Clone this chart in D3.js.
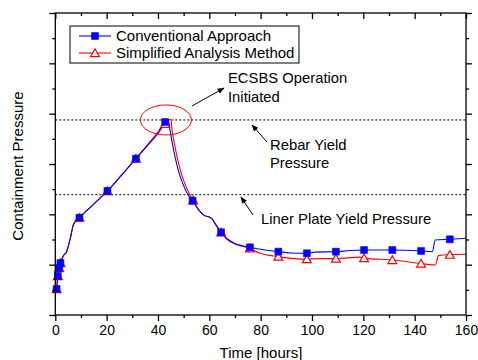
<!DOCTYPE html>
<html>
<head>
<meta charset="utf-8">
<script src="https://cdn.jsdelivr.net/npm/d3@7"></script>
<style>
  html, body { margin: 0; padding: 0; background: #fff; }
  svg { display: block; font-family: "Liberation Sans", Arial, sans-serif; }
</style>
</head>
<body>
<svg id="chart" width="478" height="360"></svg>
<script>
// Containment pressure transient (arbitrary pressure units, time in hours)

// Conventional approach: continuous curve
const convTime = [0.5, 1.0, 1.5, 2.0, 3.1, 4.4, 6.0, 7.0, 9.4, 14.5, 20.3, 26.0, 31.4, 34.3, 36.9, 40.1, 42.1, 42.8, 44.0,
  44.7, 45.6, 46.6, 47.9, 49.6, 51.8, 53.5, 55.7, 57.7, 60.9, 62.2, 64.6, 66.8, 70.0, 75.8, 81.7, 86.9, 91.5, 98.0,
  101.2, 109.3, 114.8, 120.3, 131.3, 142.5, 146.9, 148.0, 153.7, 160.0];
const convValue = [0.517, 0.775, 0.934, 1.03, 1.172, 1.258, 1.556, 1.788, 1.933, 2.18, 2.464, 2.79, 3.106, 3.28, 3.44, 3.64, 3.795, 3.835, 3.86,
  3.67, 3.41, 3.15, 2.88, 2.62, 2.38, 2.27, 2.10, 1.99, 1.92, 1.82, 1.643, 1.52, 1.42, 1.345, 1.29, 1.258, 1.232, 1.226,
  1.25, 1.258, 1.28, 1.291, 1.291, 1.272, 1.258, 1.49, 1.504, 1.524];

// Simplified analysis method: continuous curve
const simpTime = [0.5, 1.0, 1.5, 2.0, 3.1, 4.4, 6.0, 7.0, 9.4, 14.5, 20.3, 26.0, 31.4, 34.3, 36.9, 40.1, 42.8, 45.0,
  45.5, 46.4, 47.4, 48.7, 50.4, 52.5, 53.7, 55.7, 57.7, 60.9, 62.2, 64.6, 66.8, 70.0, 75.8, 79.8, 86.9, 93.4, 98.0,
  103.2, 109.3, 118.8, 120.3, 131.3, 142.5, 148.0, 149.3, 153.7, 160.0];
const simpValue = [0.517, 0.775, 0.934, 1.03, 1.172, 1.258, 1.556, 1.788, 1.933, 2.18, 2.464, 2.79, 3.106, 3.27, 3.42, 3.61, 3.80, 3.89,
  3.67, 3.41, 3.15, 2.88, 2.62, 2.38, 2.28, 2.10, 1.99, 1.92, 1.82, 1.643, 1.51, 1.41, 1.325, 1.226, 1.16, 1.12, 1.11,
  1.12, 1.12, 1.15, 1.13, 1.093, 1.023, 0.993, 1.18, 1.198, 1.206];

// Marker samples
const convMarkT = [0.5, 1.0, 1.5, 2.0, 9.4, 20.3, 31.4, 42.8, 53.5, 64.6, 75.8, 86.9, 98.0, 109.3, 120.3, 131.3, 142.5, 153.7];
const convMarkV = [0.517, 0.775, 0.934, 1.033, 1.933, 2.464, 3.106, 3.835, 2.271, 1.643, 1.345, 1.258, 1.226, 1.258, 1.291, 1.291, 1.272, 1.504];
const simpMarkT = [0.5, 1.0, 1.5, 2.0, 9.4, 20.3, 31.4, 42.8, 53.7, 64.6, 75.8, 86.9, 98.0, 109.3, 120.3, 131.3, 142.5, 153.7];
const simpMarkV = [0.517, 0.775, 0.934, 1.033, 1.933, 2.464, 3.106, 3.80, 2.28, 1.643, 1.325, 1.16, 1.11, 1.12, 1.13, 1.093, 1.023, 1.198];

// Reference pressure levels
const rebarYield = 3.875;
const linerYield = 2.39;

const xTicksMajor = [0, 20, 40, 60, 80, 100, 120, 140, 160];
const xTicksMinor = [10, 30, 50, 70, 90, 110, 130, 150];
const yTicksMajor = [0, 1, 2, 3, 4, 5, 6];
const yTicksMinor = [0.5, 1.5, 2.5, 3.5, 4.5, 5.5];

const seriesNames = ["Conventional Approach", "Simplified Analysis Method"];
const blue = "#0000ff", red = "#ff0000";

const svg = d3.select("#chart");
const x = d3.scaleLinear().domain([0, 160]).range([55.3, 466]);
const y = d3.scaleLinear().domain([0, 6]).range([315, 13]);

// arrowhead
svg.append("defs").append("marker")
  .attr("id", "arrow").attr("viewBox", "0 0 10 10").attr("refX", 9).attr("refY", 5)
  .attr("markerWidth", 8).attr("markerHeight", 7).attr("markerUnits", "userSpaceOnUse")
  .attr("orient", "auto")
  .append("path").attr("d", "M0,1 L10,5 L0,9 Z").attr("fill", "#000");

// dashed yield levels
[rebarYield, linerYield].forEach(v => {
  svg.append("line")
    .attr("x1", x(0)).attr("x2", x(160)).attr("y1", y(v)).attr("y2", y(v))
    .attr("stroke", "#000").attr("stroke-width", 1).attr("stroke-dasharray", "2,2");
});

const line = d3.line().x(d => x(d[0])).y(d => y(d[1])).curve(d3.curveMonotoneX);
const simpData = simpTime.map((t, i) => [t, simpValue[i]]);
const convData = convTime.map((t, i) => [t, convValue[i]]);

svg.append("path").datum(simpData).attr("d", line)
  .attr("fill", "none").attr("stroke", red).attr("stroke-width", 1.1);
svg.append("path").datum(convData).attr("d", line)
  .attr("fill", "none").attr("stroke", blue).attr("stroke-width", 1.1);

const tri = d3.symbol().type(d3.symbolTriangle).size(34);
const sq = d3.symbol().type(d3.symbolSquare).size(49);

svg.append("g").selectAll("path").data(simpMarkT).join("path")
  .attr("d", tri).attr("transform", (t, i) => `translate(${x(t)},${y(simpMarkV[i]) + 1})`)
  .attr("fill", "#fff").attr("stroke", red).attr("stroke-width", 1.2);
svg.append("g").selectAll("path").data(convMarkT).join("path")
  .attr("d", sq).attr("transform", (t, i) => `translate(${x(t)},${y(convMarkV[i])})`)
  .attr("fill", blue).attr("stroke", blue).attr("stroke-width", 0.5);

// plot frame and ticks (outer on left/bottom, inner on right/top)
svg.append("rect").attr("x", x(0)).attr("y", y(6)).attr("width", x(160) - x(0)).attr("height", y(0) - y(6))
  .attr("fill", "none").attr("stroke", "#000").attr("stroke-width", 1.3);

function ticks(axisFn, scale, values, size, transform) {
  const g = svg.append("g").attr("transform", transform)
    .call(axisFn(scale).tickValues(values).tickSize(size).tickSizeOuter(0).tickFormat(""));
  g.select(".domain").remove();
  g.selectAll("line").attr("stroke", "#000").attr("stroke-width", 1.3);
  return g;
}
ticks(d3.axisLeft, y, yTicksMajor, 6, `translate(${x(0)},0)`);
ticks(d3.axisLeft, y, yTicksMinor, 3, `translate(${x(0)},0)`);
ticks(d3.axisLeft, y, yTicksMajor, -6, `translate(${x(160)},0)`);
ticks(d3.axisLeft, y, yTicksMinor, -3, `translate(${x(160)},0)`);
ticks(d3.axisBottom, x, xTicksMajor, 6, `translate(0,${y(0)})`);
ticks(d3.axisBottom, x, xTicksMinor, 3, `translate(0,${y(0)})`);
ticks(d3.axisTop, x, xTicksMajor, -6, `translate(0,${y(6)})`);
ticks(d3.axisTop, x, xTicksMinor, -3, `translate(0,${y(6)})`);

const xLab = svg.append("g").attr("transform", `translate(0,${y(0)})`)
  .call(d3.axisBottom(x).tickValues(xTicksMajor).tickSize(6).tickPadding(4).tickFormat(d3.format("d")));
xLab.select(".domain").remove();
xLab.selectAll("line").remove();
xLab.selectAll("text").attr("font-size", 14).attr("font-family", "Liberation Sans, Arial, sans-serif").attr("fill", "#000");

// axis titles
svg.append("text").attr("x", 261).attr("y", 358).attr("text-anchor", "middle")
  .attr("font-size", 15).text("Time [hours]");
svg.append("text").attr("transform", "translate(23,166) rotate(-90)").attr("text-anchor", "middle")
  .attr("font-size", 15).text("Containment Pressure");

// legend
const lg = svg.append("g");
lg.append("rect").attr("x", 70).attr("y", 26).attr("width", 229).attr("height", 37)
  .attr("fill", "#fff").attr("stroke", "#000").attr("stroke-width", 1);
[[blue, sq, 0], [red, tri, 1]].forEach(([c, sym, i]) => {
  const yy = 36 + i * 17;
  lg.append("line").attr("x1", 79).attr("x2", 111).attr("y1", yy).attr("y2", yy).attr("stroke", c).attr("stroke-width", 1.1);
  lg.append("path").attr("d", sym).attr("transform", `translate(95,${yy + (i ? 1 : 0)})`)
    .attr("fill", i ? "#fff" : c).attr("stroke", c).attr("stroke-width", i ? 1.2 : 0.5);
  lg.append("text").attr("x", 116).attr("y", yy + 4.5).attr("font-size", 15).text(seriesNames[i]);
});

// annotations
svg.append("ellipse").attr("cx", x(43.1)).attr("cy", y(3.875)).attr("rx", 25.5).attr("ry", 15)
  .attr("fill", "none").attr("stroke", red).attr("stroke-width", 1);

const ann = svg.append("g").attr("font-size", 14.8);
ann.append("text").attr("x", 228).attr("y", 83).text("ECSBS Operation");
ann.append("text").attr("x", 228).attr("y", 102).text("Initiated");
ann.append("text").attr("x", 270).attr("y", 150).text("Rebar Yield");
ann.append("text").attr("x", 270).attr("y", 168).text("Pressure");
ann.append("text").attr("x", 261).attr("y", 224).text("Liner Plate Yield Pressure");

function arrow(x1, y1, x2, y2) {
  svg.append("line").attr("x1", x1).attr("y1", y1).attr("x2", x2).attr("y2", y2)
    .attr("stroke", "#000").attr("stroke-width", 1).attr("marker-end", "url(#arrow)");
}
arrow(192, 106, 224, 88);
arrow(267, 142, 252, 125);
arrow(253, 215, 241, 197);
</script>
</body>
</html>
